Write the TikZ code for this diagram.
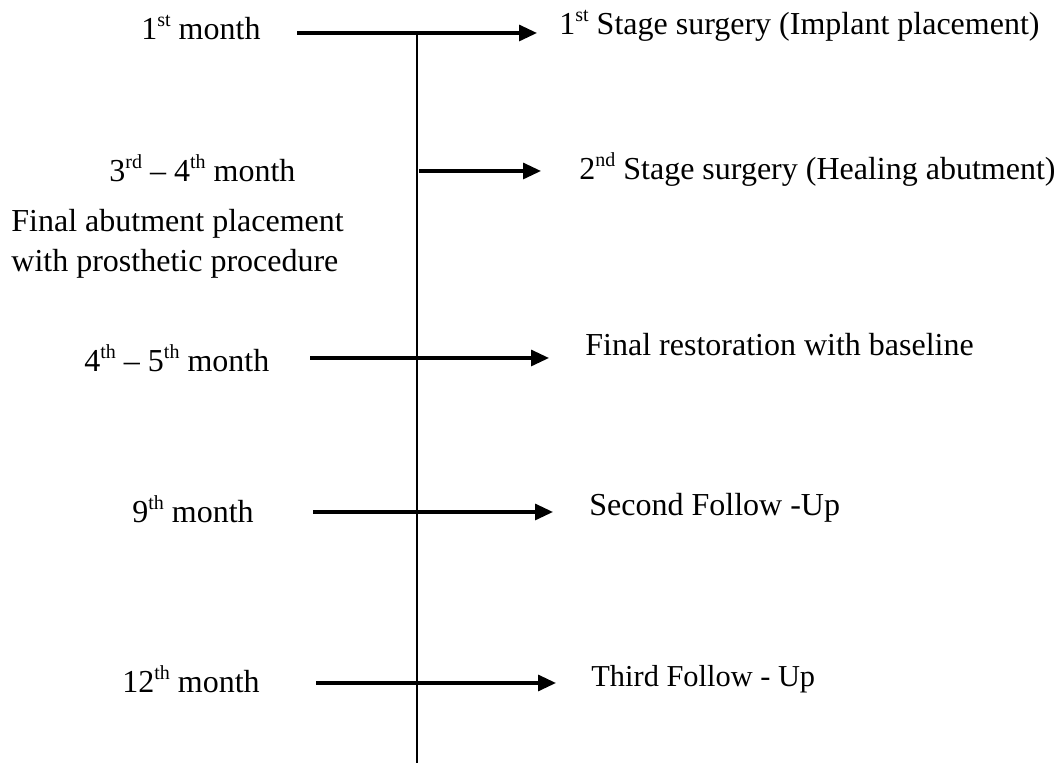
\documentclass[tikz,border=0pt]{standalone}
\usepackage{fontspec}
\setmainfont{Liberation Serif}
\usetikzlibrary{arrows.meta}
\newcommand{\sups}[1]{\raisebox{0.42em}{\fontsize{10}{10}\selectfont #1}}
\begin{document}
\begin{tikzpicture}[x=0.5pt,y=-0.5pt,
  lbl/.style={anchor=base west,inner sep=0pt,font=\fontsize{16}{19}\selectfont},
  lblsm/.style={anchor=base west,inner sep=0pt,font=\fontsize{15.2}{18}\selectfont},
  arr/.style={line width=1.6pt,-{Triangle[length=9pt,width=8pt]}},
  axis/.style={line width=0.6pt}]
\useasboundingbox (0,0) rectangle (1062,763);
% vertical time axis
\coordinate (top) at (417,33);
\coordinate (bot) at (417,763);
\draw[axis] (top) -- (bot);
% left labels
\node[lbl] (m1) at (141,40) {1\sups{st} month};
\node[lbl] (m3) at (109,182) {3\sups{rd} -- 4\sups{th} month};
\node[lbl] (fa1) at (11,232) {Final abutment placement};
\node[lbl] (fa2) at (11,272) {with prosthetic procedure};
\node[lbl] (m4) at (84,372) {4\sups{th} -- 5\sups{th} month};
\node[lbl] (m9) at (132,523) {9\sups{th} month};
\node[lbl] (m12) at (122,693) {12\sups{th} month};
% right labels
\node[lbl] (s1) at (559,35) {1\sups{st} Stage surgery (Implant placement)};
\node[lbl] (s2) at (579,180) {2\sups{nd} Stage surgery (Healing abutment)};
\node[lbl] (s3) at (585,356) {Final restoration with baseline};
\node[lbl] (s4) at (589,516) {Second Follow -Up};
\node[lblsm] (s5) at (591,687) {Third Follow - Up};
% arrow end points
\coordinate (a1s) at (297,33); \coordinate (a1e) at (537,33);
\coordinate (a2s) at (419,171); \coordinate (a2e) at (541,171);
\coordinate (a3s) at (310,358); \coordinate (a3e) at (549,358);
\coordinate (a4s) at (313,512); \coordinate (a4e) at (553,512);
\coordinate (a5s) at (316,683); \coordinate (a5e) at (556,683);
\draw[arr] (a1s) -- (a1e);
\draw[arr] (a2s) -- (a2e);
\draw[arr] (a3s) -- (a3e);
\draw[arr] (a4s) -- (a4e);
\draw[arr] (a5s) -- (a5e);
\end{tikzpicture}
\end{document}
